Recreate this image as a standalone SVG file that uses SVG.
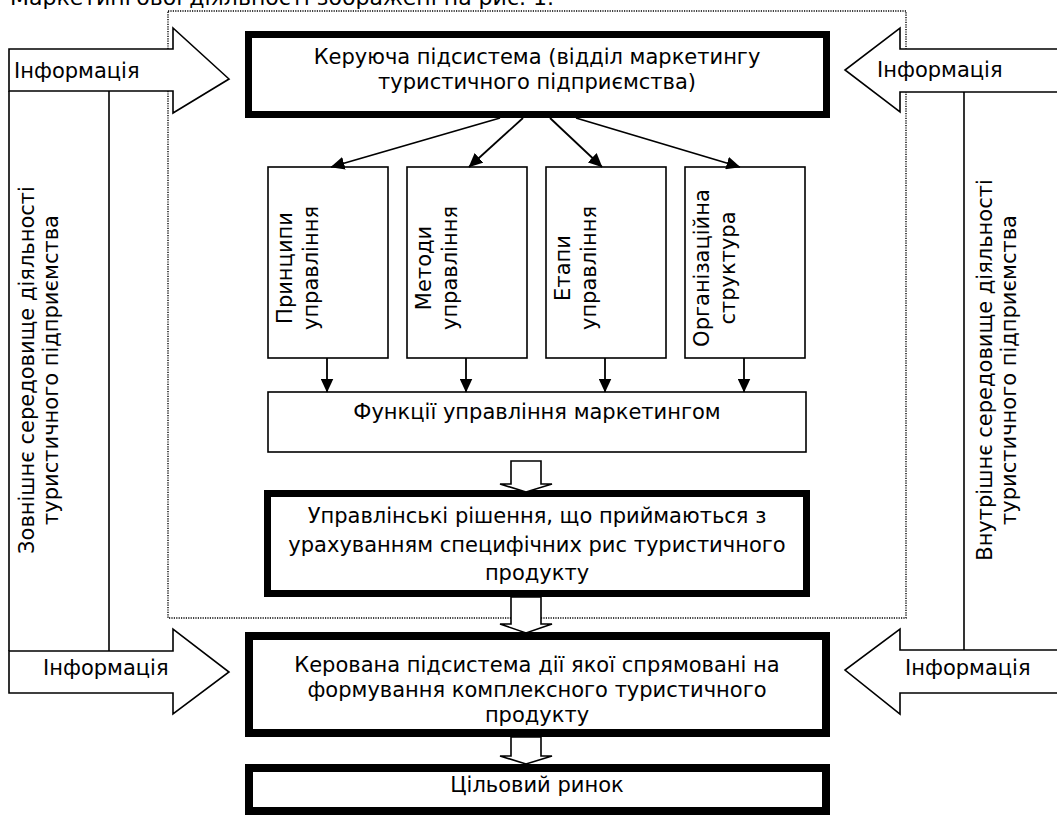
<svg xmlns="http://www.w3.org/2000/svg" width="1057" height="818" viewBox="0 0 1057 818">
<style>
.h{font-family:"DejaVu Sans","Verdana",sans-serif;font-size:21px;fill:#000;text-anchor:middle}
.hl{font-family:"DejaVu Sans","Verdana",sans-serif;font-size:21px;fill:#000}
.v{font-family:"DejaVu Sans","Verdana",sans-serif;font-size:21px;fill:#000;text-anchor:middle}
.thick{fill:#fff;stroke:#000;stroke-width:7}
.thin{fill:#fff;stroke:#000;stroke-width:1.6}
.outl{fill:#fff;stroke:#000;stroke-width:1.6;stroke-linejoin:miter}
.ln{stroke:#000;stroke-width:1.6;fill:none}
.con{stroke:#000;stroke-width:1.8;fill:none;marker-end:url(#ah)}
.dot{fill:none;stroke:#000;stroke-width:1.4;stroke-dasharray:1.2 1.2}
</style>
<defs>
<marker id="ah" viewBox="0 0 14 13" refX="13.5" refY="6.5" markerWidth="14" markerHeight="13" markerUnits="userSpaceOnUse" orient="auto">
<path d="M0,0 L14,6.5 L0,13 Z" fill="#000"/>
</marker>
</defs>
<rect width="1057" height="818" fill="#fff"/>
<text class="hl" x="10" y="5" style="font-size:22px">Маркетингової діяльності зображені на рис. 1.</text>

<g id="boundary">
<rect class="dot" x="168" y="11" width="738" height="607"/>
</g>

<g id="external-env">
<polygon class="outl" points="9,49 173,49 173,28 229,79 173,113 173,91 9,91"/>
<polygon class="outl" points="9,651 173,651 173,629 229,672 173,714 173,693 9,693"/>
<line class="ln" x1="9" y1="91" x2="9" y2="651"/>
<line class="ln" x1="109" y1="91" x2="109" y2="651"/>
<text class="hl" x="14" y="78">Інформація</text>
<text class="hl" x="43" y="675">Інформація</text>
<text class="v" transform="translate(34,370) rotate(-90)"><tspan x="0" y="0">Зовнішнє середовище діяльності</tspan><tspan x="0" y="24">туристичного підприємства</tspan></text>
</g>

<g id="internal-env">
<polygon class="outl" points="1060,49 900,49 900,28 845,70 900,112 900,92 1060,92"/>
<polygon class="outl" points="1060,650 900,650 900,629 845,670 900,714 900,693 1060,693"/>
<line class="ln" x1="964" y1="92" x2="964" y2="650"/>
<text class="hl" x="877" y="77">Інформація</text>
<text class="hl" x="905" y="675">Інформація</text>
<text class="v" transform="translate(992,370) rotate(-90)"><tspan x="0" y="0">Внутрішнє середовище діяльності</tspan><tspan x="0" y="24">туристичного підприємства</tspan></text>
</g>

<g id="control-subsystem">
<rect class="thick" x="248.5" y="34.5" width="578" height="80"/>
<text class="h" x="537" y="64">Керуюча підсистема (відділ маркетингу</text>
<text class="h" x="537" y="89">туристичного підприємства)</text>
</g>

<g id="principles">
<rect class="thin" x="268" y="167" width="120" height="191"/>
<text class="v" transform="translate(292,268) rotate(-90)"><tspan x="0" y="0">Принципи</tspan><tspan x="0" y="26">управління</tspan></text>
</g>
<g id="methods">
<rect class="thin" x="407" y="167" width="120" height="191"/>
<text class="v" transform="translate(431,268) rotate(-90)"><tspan x="0" y="0">Методи</tspan><tspan x="0" y="26">управління</tspan></text>
</g>
<g id="stages">
<rect class="thin" x="546" y="167" width="120" height="191"/>
<text class="v" transform="translate(570,268) rotate(-90)"><tspan x="0" y="0">Етапи</tspan><tspan x="0" y="26">управління</tspan></text>
</g>
<g id="structure">
<rect class="thin" x="685" y="167" width="120" height="191"/>
<text class="v" transform="translate(709,268) rotate(-90)"><tspan x="0" y="0">Організаційна</tspan><tspan x="0" y="26">структура</tspan></text>
</g>

<g id="functions">
<rect class="thin" x="268" y="392" width="538" height="60"/>
<text class="h" x="537" y="419">Функції управління маркетингом</text>
</g>

<g id="decisions">
<rect class="thick" x="267.5" y="493.5" width="539" height="100"/>
<text class="h" x="537" y="523">Управлінські рішення, що приймаються з</text>
<text class="h" x="537" y="552">урахуванням специфічних рис туристичного</text>
<text class="h" x="537" y="580">продукту</text>
</g>

<g id="managed-subsystem">
<rect class="thick" x="249" y="636" width="577" height="97" style="stroke-width:8"/>
<text class="h" x="537" y="672">Керована підсистема дії якої спрямовані на</text>
<text class="h" x="537" y="697">формування комплексного туристичного</text>
<text class="h" x="537" y="722">продукту</text>
</g>

<g id="target-market">
<rect class="thick" x="249" y="768" width="577" height="43" style="stroke-width:8"/>
<text class="h" x="537" y="792">Цільовий ринок</text>
</g>

<g id="connectors">
<line class="con" x1="500" y1="118" x2="331" y2="167"/>
<line class="con" x1="523" y1="118" x2="469" y2="167"/>
<line class="con" x1="550" y1="118" x2="602" y2="167"/>
<line class="con" x1="576" y1="118" x2="740" y2="167"/>
<line class="con" x1="327" y1="358" x2="327" y2="392"/>
<line class="con" x1="466" y1="358" x2="466" y2="392"/>
<line class="con" x1="605" y1="358" x2="605" y2="392"/>
<line class="con" x1="744" y1="358" x2="744" y2="392"/>
<polygon class="outl" points="511,461 541,461 541,484 552,484 526,492 500,484 511,484"/>
<polygon class="outl" points="511,597 541,597 541,624 552,624 526,633 500,624 511,624"/>
<polygon class="outl" points="511,737 541,737 541,756 552,756 526,764 500,756 511,756"/>
</g>
</svg>
